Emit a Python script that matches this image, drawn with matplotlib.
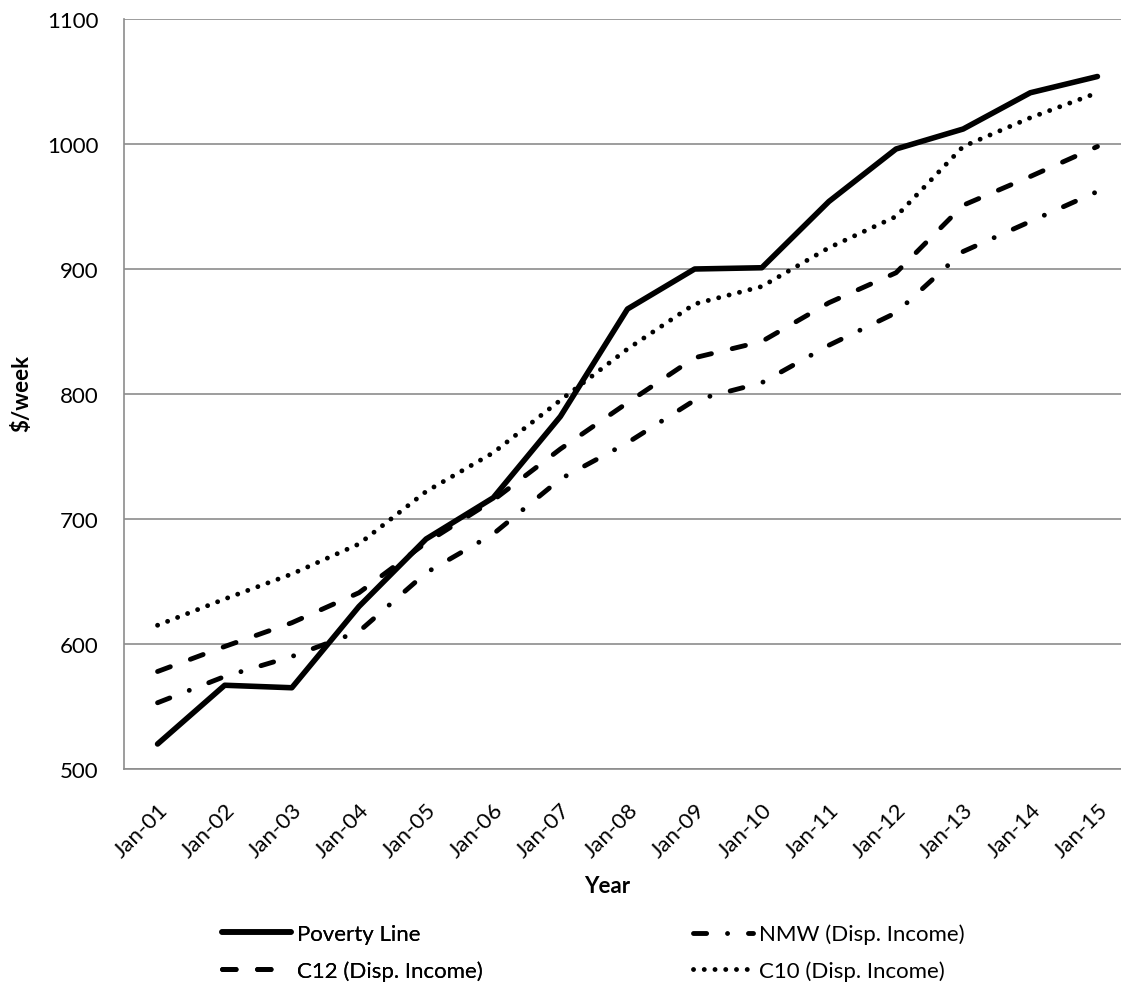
import matplotlib
matplotlib.use("Agg")
import matplotlib.pyplot as plt
import matplotlib.transforms as mtransforms
import numpy as np

plt.rcParams['font.family'] = ['Lato', 'DejaVu Sans']

years = ['Jan-01', 'Jan-02', 'Jan-03', 'Jan-04', 'Jan-05', 'Jan-06', 'Jan-07', 'Jan-08',
         'Jan-09', 'Jan-10', 'Jan-11', 'Jan-12', 'Jan-13', 'Jan-14', 'Jan-15']
poverty_line = [520, 567, 565, 630, 684, 717, 782, 868, 900, 901, 954, 996, 1012, 1041, 1054]
nmw_income = [553, 574, 590, 610, 657, 688, 732, 761, 795, 809, 839, 865, 914, 938, 962]
c12_income = [578, 598, 617, 641, 681, 715, 756, 793, 829, 842, 873, 897, 951, 974, 998]
c10_income = [615, 636, 656, 680, 722, 753, 795, 836, 872, 886, 917, 942, 998, 1021, 1041]

W, H = 1121, 987
fs = 16
fig = plt.figure(figsize=(W / 100, H / 100), dpi=100)
# plot area runs a little past the right edge of the figure
ax = fig.add_axes([124 / W, 1 - 770 / H, (1131 - 124) / W, (770 - 20) / H])

x = np.arange(len(years))
lw = 3.5
l_pov, = ax.plot(x, poverty_line, color='black', lw=4.0, solid_capstyle='round',
                 solid_joinstyle='round', label='Poverty Line')
l_nmw, = ax.plot(x, nmw_income, color='black', lw=lw, dashes=(2.7, 4.3, 0.01, 4.3),
                 dash_capstyle='round', label='NMW (Disp. Income)')
l_c12, = ax.plot(x, c12_income, color='black', lw=lw, dashes=(2.8, 4.4),
                 dash_capstyle='round', label='C12 (Disp. Income)')
l_c10, = ax.plot(x, c10_income, color='black', lw=lw, dashes=(0.01, 2.2),
                 dash_capstyle='round', label='C10 (Disp. Income)')

ax.set_xlim(-0.5, len(years) - 0.5)
ax.set_ylim(500, 1100)
ax.set_yticks(range(500, 1101, 100))
ax.set_xticks(x)
ax.set_xticklabels(years, rotation=45, ha='right', va='top', rotation_mode='anchor', fontsize=fs)
shift = mtransforms.ScaledTranslation(5 / 100, 0, fig.dpi_scale_trans)
for lab in ax.get_xticklabels():
    lab.set_transform(lab.get_transform() + shift)
ax.tick_params(axis='y', labelsize=fs, length=0, pad=18.5)
ax.tick_params(axis='x', length=0, pad=22)
ax.grid(axis='y', color='#8c8c8c', lw=1.2)
ax.set_axisbelow(True)
for side in ['top', 'right']:
    ax.spines[side].set_visible(False)
for side in ['left', 'bottom']:
    ax.spines[side].set_color('#8c8c8c')
    ax.spines[side].set_linewidth(1.2)

fig.text(22 / W, 1 - 394 / H, '$/week', rotation=90, ha='center', va='center',
         fontsize=fs, fontweight='bold')
fig.text(607 / W, 1 - 887 / H, 'Year', ha='center', va='center',
         fontsize=fs, fontweight='bold')

# legend in two columns, each placed on its own
leg_kw = dict(frameon=False, fontsize=fs, loc='center left', handletextpad=0.28,
              labelspacing=0.72, borderaxespad=0, borderpad=0)
leg1 = fig.legend(handles=[l_pov, l_c12], bbox_to_anchor=(222 / W, 1 - 953.5 / H),
                  handlelength=3.1, **leg_kw)
fig.legend(handles=[l_nmw, l_c10], bbox_to_anchor=(693 / W, 1 - 953.5 / H),
           handlelength=2.7, **leg_kw)
fig.add_artist(leg1)

fig.savefig('out.png', dpi=100)
